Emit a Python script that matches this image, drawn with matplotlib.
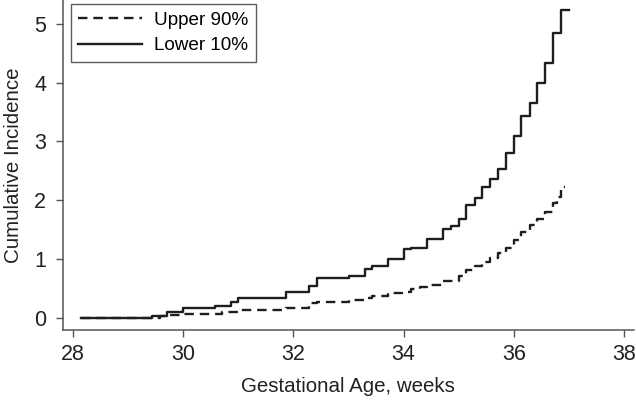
import matplotlib.pyplot as plt
import numpy as np

plt.rcParams['font.family'] = ['Liberation Sans', 'DejaVu Sans']

# step times (weeks) and cumulative incidence after each step
lower_t = [28.14, 29.43, 29.71, 30.0, 30.57, 30.86, 31.0, 31.86, 32.29, 32.43,
           33.0, 33.29, 33.43, 33.71, 34.0, 34.14, 34.43, 34.71, 34.86, 35.0,
           35.14, 35.29, 35.43, 35.57, 35.71, 35.86, 36.0, 36.14, 36.29, 36.43,
           36.57, 36.71, 36.86]
lower_v = [0.0, 0.04, 0.10, 0.17, 0.21, 0.28, 0.34, 0.45, 0.55, 0.68,
           0.72, 0.84, 0.89, 1.00, 1.17, 1.20, 1.34, 1.51, 1.57, 1.68,
           1.92, 2.04, 2.22, 2.36, 2.54, 2.81, 3.10, 3.43, 3.65, 4.00,
           4.33, 4.84, 5.23]
lower_end = 37.0

upper_t = [28.14, 29.57, 29.71, 30.0, 30.57, 30.71, 31.0, 31.86, 32.29, 32.43,
           33.0, 33.29, 33.43, 33.71, 34.0, 34.14, 34.29, 34.43, 34.71, 35.0,
           35.14, 35.29, 35.43, 35.57, 35.71, 35.86, 36.0, 36.14, 36.29, 36.43,
           36.57, 36.71, 36.79, 36.86]
upper_v = [0.0, 0.03, 0.06, 0.07, 0.08, 0.10, 0.14, 0.18, 0.26, 0.28,
           0.31, 0.34, 0.38, 0.42, 0.45, 0.49, 0.53, 0.56, 0.64, 0.72,
           0.82, 0.88, 0.96, 1.02, 1.10, 1.20, 1.33, 1.47, 1.58, 1.69,
           1.81, 1.95, 2.06, 2.23]
upper_end = 36.93

fig = plt.figure(figsize=(6.36, 4.01), dpi=100)
ax = fig.add_axes([0.0986, 0.177, 0.898, 0.823])

ax.step(upper_t + [upper_end], upper_v + [upper_v[-1]], where='post',
        color='#1e1e1e', lw=1.7, dashes=(4, 2.5), label='Upper 90%')
ax.step(lower_t + [lower_end], lower_v + [lower_v[-1]], where='post',
        color='#1e1e1e', lw=1.7, label='Lower 10%')

ax.set_xlim(27.81, 38.18)
ax.set_ylim(-0.2, 5.4)
ax.set_xticks(np.arange(28, 39, 2))
ax.set_yticks(np.arange(0, 6, 1))

for s in ['top', 'right']:
    ax.spines[s].set_visible(False)
for s in ['left', 'bottom']:
    ax.spines[s].set_color('#555555')
    ax.spines[s].set_linewidth(1.1)
ax.tick_params(direction='out', length=5, width=1, color='#555555',
               labelsize=15.5, labelcolor='#222222')
ax.tick_params(axis='x', pad=5)
ax.tick_params(axis='y', pad=7)

ax.set_xlabel('Gestational Age, weeks', fontsize=14.8, color='#222222', labelpad=9)
ax.set_ylabel('Cumulative Incidence', fontsize=14.8, color='#222222', labelpad=8)

leg = ax.legend(loc='upper left', bbox_to_anchor=(0.014, 0.988), fontsize=13.6,
                frameon=True, fancybox=False, handlelength=3.4, handletextpad=0.6,
                borderpad=0.4, labelspacing=0.45, borderaxespad=0)
leg.get_frame().set_edgecolor('#333333')
leg.get_frame().set_linewidth(1.0)

fig.savefig('out.png', dpi=100)
